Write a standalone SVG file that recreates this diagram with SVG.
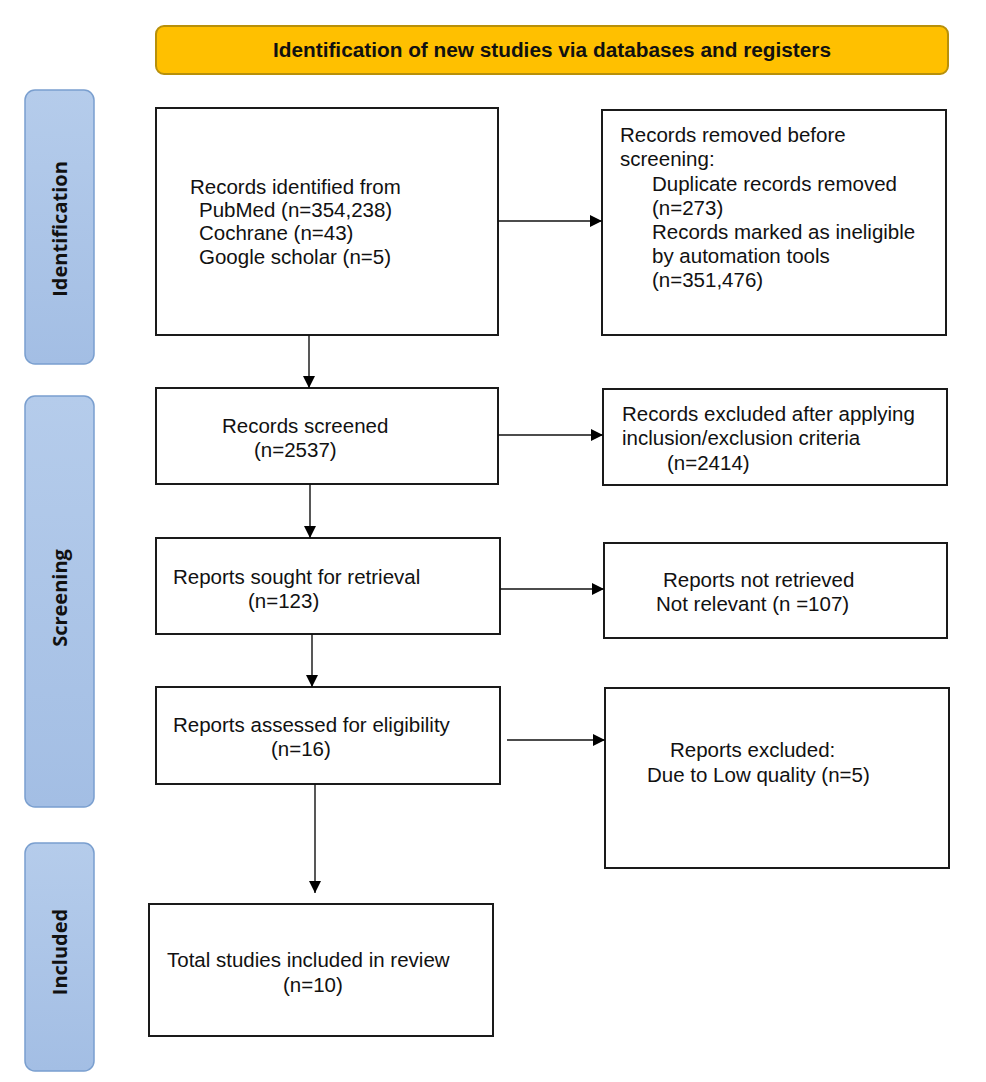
<svg xmlns="http://www.w3.org/2000/svg" width="986" height="1082" viewBox="0 0 986 1082">
<defs>
<linearGradient id="phase" x1="0" y1="0" x2="0" y2="1">
<stop offset="0" stop-color="#B5CCEB"/>
<stop offset="1" stop-color="#A3BEE4"/>
</linearGradient>
<marker id="arr" viewBox="0 0 12 12" refX="12" refY="6" markerWidth="12" markerHeight="12" markerUnits="userSpaceOnUse" orient="auto">
<path d="M0,0 L12,6 L0,12 Z" fill="#000"/>
</marker>
<style>
.box{fill:#fff;stroke:#1a1a1a;stroke-width:2}
.t{font-family:"Liberation Sans",Arial,sans-serif;font-size:20.5px;fill:#111}
.ph{fill:url(#phase);stroke:#7A9FCF;stroke-width:1.5}
.pt{font-family:"Open Sans","DejaVu Sans",sans-serif;font-weight:bold;font-size:20px;fill:#111;text-anchor:middle}
.c{stroke:#111;stroke-width:1.4;fill:none;marker-end:url(#arr)}
</style>
</defs>
<rect width="986" height="1082" fill="#fff"/>

<g id="header">
<rect x="156" y="26" width="792" height="48" rx="8" fill="#FFC000" stroke="#B8900A" stroke-width="2"/>
<text x="273" y="57" textLength="558" lengthAdjust="spacingAndGlyphs" font-family="'Liberation Sans',Arial,sans-serif" font-weight="bold" font-size="20" fill="#111">Identification of new studies via databases and registers</text>
</g>

<g id="phase-identification">
<rect class="ph" x="25" y="90" width="69" height="274" rx="10"/>
<text class="pt" transform="translate(67,229) rotate(-90)">Identification</text>
</g>
<g id="phase-screening">
<rect class="ph" x="25" y="396" width="69" height="411" rx="10"/>
<text class="pt" transform="translate(67,598) rotate(-90)">Screening</text>
</g>
<g id="phase-included">
<rect class="ph" x="25" y="843" width="69" height="228" rx="10"/>
<text class="pt" transform="translate(67,952) rotate(-90)">Included</text>
</g>

<g id="records-identified">
<rect class="box" x="156" y="108" width="342" height="227"/>
<text class="t" x="190" y="194">Records identified from</text>
<text class="t" x="199" y="217">PubMed (n=354,238)</text>
<text class="t" x="199" y="240">Cochrane (n=43)</text>
<text class="t" x="199" y="264">Google scholar (n=5)</text>
</g>

<g id="records-removed">
<rect class="box" x="602" y="110" width="344" height="225"/>
<text class="t" x="620" y="142">Records removed before</text>
<text class="t" x="620" y="166">screening:</text>
<text class="t" x="652" y="191">Duplicate records removed</text>
<text class="t" x="652" y="215">(n=273)</text>
<text class="t" x="652" y="239">Records marked as ineligible</text>
<text class="t" x="652" y="263">by automation tools</text>
<text class="t" x="652" y="287">(n=351,476)</text>
</g>

<g id="records-screened">
<rect class="box" x="156" y="388" width="342" height="96"/>
<text class="t" x="222" y="433">Records screened</text>
<text class="t" x="254" y="457">(n=2537)</text>
</g>

<g id="records-excluded">
<rect class="box" x="603" y="389" width="344" height="96"/>
<text class="t" x="622" y="421">Records excluded after applying</text>
<text class="t" x="622" y="445">inclusion/exclusion criteria</text>
<text class="t" x="667" y="470">(n=2414)</text>
</g>

<g id="reports-sought">
<rect class="box" x="156" y="538" width="344" height="96"/>
<text class="t" x="173" y="584">Reports sought for retrieval</text>
<text class="t" x="248" y="608">(n=123)</text>
</g>

<g id="reports-not-retrieved">
<rect class="box" x="604" y="543" width="343" height="95"/>
<text class="t" x="663" y="587">Reports not retrieved</text>
<text class="t" x="656" y="611">Not relevant (n =107)</text>
</g>

<g id="reports-assessed">
<rect class="box" x="156" y="687" width="344" height="97"/>
<text class="t" x="173" y="732">Reports assessed for eligibility</text>
<text class="t" x="271" y="756">(n=16)</text>
</g>

<g id="reports-excluded">
<rect class="box" x="605" y="688" width="344" height="180"/>
<text class="t" x="670" y="757">Reports excluded:</text>
<text class="t" x="647" y="782">Due to Low quality (n=5)</text>
</g>

<g id="studies-included">
<rect class="box" x="149" y="904" width="344" height="132"/>
<text class="t" x="167" y="967">Total studies included in review</text>
<text class="t" x="283" y="992">(n=10)</text>
</g>

<g id="connectors">
<line class="c" x1="498" y1="221" x2="602" y2="221"/>
<line class="c" x1="309" y1="335" x2="309" y2="388"/>
<line class="c" x1="498" y1="435" x2="603" y2="435"/>
<line class="c" x1="310" y1="484" x2="310" y2="538"/>
<line class="c" x1="500" y1="589" x2="604" y2="589"/>
<line class="c" x1="312" y1="634" x2="312" y2="687"/>
<line class="c" x1="507" y1="740" x2="605" y2="740"/>
<line class="c" x1="315" y1="784" x2="315" y2="893"/>
</g>
</svg>
